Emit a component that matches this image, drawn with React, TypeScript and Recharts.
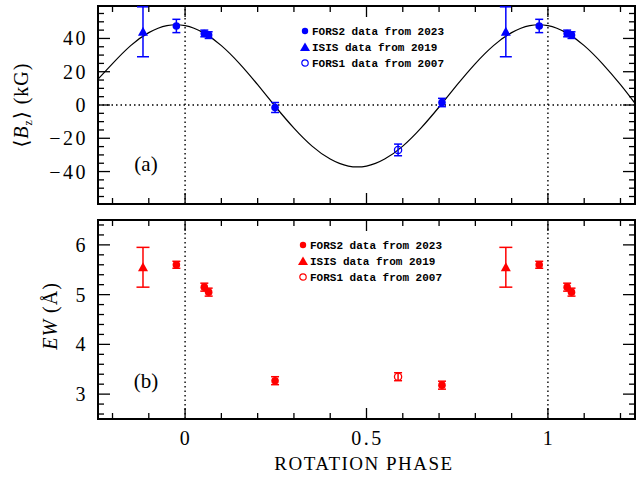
import React from "react";
import {
  ComposedChart,
  Line,
  Scatter,
  XAxis,
  YAxis,
  ErrorBar,
  ReferenceLine,
  ReferenceArea,
  Legend,
  Customized,
} from "recharts";

// axis setup
const phaseDomain = [-0.24, 1.24];
const phaseTicks = [-0.2, -0.1, 0, 0.1, 0.2, 0.3, 0.4, 0.5, 0.6, 0.7, 0.8, 0.9, 1, 1.1, 1.2];
const phaseLabels = [0, 0.5, 1];
const bDomain = [-59.5, 59.5];
const bTicks = [-55, -50, -45, -40, -35, -30, -25, -20, -15, -10, -5, 0, 5, 10, 15, 20, 25, 30, 35, 40, 45, 50, 55];
const bLabels = [-40, -20, 0, 20, 40];
const ewDomain = [2.5, 6.5];
const ewTicks = [2.6, 2.8, 3, 3.2, 3.4, 3.6, 3.8, 4, 4.2, 4.4, 4.6, 4.8, 5, 5.2, 5.4, 5.6, 5.8, 6, 6.2, 6.4];
const ewLabels = [3, 4, 5, 6];

// fitted curve
const fitPhase = [-0.24, -0.2, -0.15, -0.1, -0.05, 0, 0.05, 0.1, 0.15, 0.2, 0.25, 0.3, 0.35, 0.4, 0.45, 0.5, 0.55, 0.6, 0.65, 0.7, 0.75, 0.8, 0.85, 0.9, 0.95, 1, 1.05, 1.1, 1.15, 1.2, 1.24];
const fitB = [15.5, 24.9, 35.7, 43.5, 47.7, 47.7, 43.5, 35.7, 24.9, 12.2, -1.2, -13.9, -24.7, -32.5, -36.7, -36.7, -32.5, -24.7, -13.9, -1.2, 12.2, 24.9, 35.7, 43.5, 47.7, 47.7, 43.5, 35.7, 24.9, 12.2, 1];

// FORS2 2023
const fors2Phase = [-0.024, 0.053, 0.065, 0.248, 0.708, 0.976, 1.053, 1.065];
const fors2B = [47.5, 43, 42, -1.5, 1.5, 47.5, 43, 42];
const fors2BErr = [4, 2, 2, 3, 2.5, 4, 2, 2];
const fors2EW = [5.6, 5.15, 5.05, 3.27, 3.18, 5.6, 5.15, 5.05];
const fors2EWErr = [0.07, 0.08, 0.08, 0.08, 0.08, 0.07, 0.08, 0.08];

// ISIS 2019
const isisPhase = [-0.116, 0.884];
const isisB = [44, 44];
const isisBErr = [15, 15];
const isisEW = [5.55, 5.55];
const isisEWErr = [0.4, 0.4];

// FORS1 2007
const fors1Phase = [0.587];
const fors1B = [-27];
const fors1BErr = [3.5];
const fors1EW = [3.35];
const fors1EWErr = [0.08];

const legendNames = ["FORS2 data from 2023", "ISIS data from 2019", "FORS1 data from 2007"];

const zip = (xs: number[], ys: number[], es?: number[]) =>
  xs.map((x, i) => ({ x, y: ys[i], err: es ? es[i] : 0 }));

const fitRows = zip(fitPhase, fitB);

const SERIF = "'Liberation Serif', 'DejaVu Serif', serif";
const MONO = "'Liberation Mono', 'DejaVu Sans Mono', monospace";

const fmt = (v: number) => (v < 0 ? `\u2212${Math.abs(v)}` : String(v));

function XTick(props: any) {
  const { x, y, payload, plotH, showLabels } = props;
  const major = phaseLabels.includes(payload.value);
  const len = major ? 11 : 6;
  return (
    <g>
      <line x1={x} y1={y} x2={x} y2={y - len} stroke="#000" strokeWidth={1.3} />
      <line x1={x} y1={y - plotH} x2={x} y2={y - plotH + len} stroke="#000" strokeWidth={1.3} />
      {showLabels && major && (
        <text x={x + 1} y={y + 26} textAnchor="middle" fontFamily={SERIF} fontSize={20} letterSpacing={2.5} fill="#000">
          {fmt(payload.value)}
        </text>
      )}
    </g>
  );
}

function YTick(props: any) {
  const { x, y, payload, plotW, labels } = props;
  const major = labels.includes(payload.value);
  const len = major ? 12 : 6;
  return (
    <g>
      <line x1={x} y1={y} x2={x + len} y2={y} stroke="#000" strokeWidth={1.3} />
      <line x1={x + plotW} y1={y} x2={x + plotW - len} y2={y} stroke="#000" strokeWidth={1.3} />
      {major && (
        <text x={x - 10} y={y + 7} textAnchor="end" fontFamily={SERIF} fontSize={20} letterSpacing={2.5} fill="#000">
          {fmt(payload.value)}
        </text>
      )}
    </g>
  );
}

function LegendBox({ color }: { color: string }) {
  return (
    <svg width={160} height={50} style={{ display: "block" }}>
      <circle cx={9} cy={9} r={3.2} fill={color} />
      <polygon points="4,29 14,29 9,20.5" fill={color} />
      <circle cx={9} cy={41} r={3.2} fill="none" stroke={color} strokeWidth={1.2} />
      {legendNames.map((n, i) => (
        <text key={n} x={16} y={12.8 + i * 16} fontFamily={MONO} fontWeight="bold" fontSize={11} fill="#000">
          {n}
        </text>
      ))}
    </svg>
  );
}

const dotShape = (color: string) => (p: any) => <circle cx={p.cx} cy={p.cy} r={3.8} fill={color} />;
const openShape = (color: string) => (p: any) => (
  <circle cx={p.cx} cy={p.cy} r={3.6} fill="none" stroke={color} strokeWidth={1.3} />
);
const triShape = (color: string) => (p: any) => (
  <polygon points={`${p.cx - 5},${p.cy + 4} ${p.cx + 5},${p.cy + 4} ${p.cx},${p.cy - 5}`} fill={color} />
);

const PLOT_W = 537;
const DOT = { stroke: "#000", strokeDasharray: "1.5 3", strokeWidth: 1.4 };

export default function App() {
  const blue = "#0000ff";
  const red = "#ff0000";
  return (
    <div style={{ position: "absolute", left: 0, top: 0, width: 636, height: 477, background: "#fff" }}>
      {/* panel (a) */}
      <div style={{ position: "absolute", left: 0, top: 0 }}>
        <ComposedChart width={636} height={214} margin={{ top: 6, right: 1, bottom: 0, left: 0 }}>
          <XAxis
            type="number"
            dataKey="x"
            domain={phaseDomain}
            ticks={phaseTicks}
            interval={0}
            allowDataOverflow
            height={10}
            tickSize={0}
            tickMargin={0}
            axisLine={false}
            tick={(p: any) => <XTick {...p} plotH={198} showLabels={false} />}
          />
          <YAxis
            type="number"
            dataKey="y"
            domain={bDomain}
            ticks={bTicks}
            interval={0}
            allowDataOverflow
            width={98}
            tickSize={0}
            tickMargin={0}
            axisLine={false}
            tick={(p: any) => <YTick {...p} plotW={PLOT_W} labels={bLabels} />}
          />
          <ReferenceLine x={0} {...DOT} />
          <ReferenceLine x={1} {...DOT} />
          <ReferenceLine y={0} {...DOT} />
          <Line data={fitRows} dataKey="y" type="natural" stroke="#000" strokeWidth={1.2} dot={false} isAnimationActive={false} />
          <Scatter data={zip(isisPhase, isisB, isisBErr)} shape={triShape(blue)} isAnimationActive={false}>
            <ErrorBar dataKey="err" direction="y" width={6} stroke={blue} strokeWidth={1.5} />
          </Scatter>
          <Scatter data={zip(fors1Phase, fors1B, fors1BErr)} shape={openShape(blue)} isAnimationActive={false}>
            <ErrorBar dataKey="err" direction="y" width={4} stroke={blue} strokeWidth={1.5} />
          </Scatter>
          <Scatter data={zip(fors2Phase, fors2B, fors2BErr)} shape={dotShape(blue)} isAnimationActive={false}>
            <ErrorBar dataKey="err" direction="y" width={4} stroke={blue} strokeWidth={1.5} />
          </Scatter>
          <ReferenceArea x1={phaseDomain[0]} x2={phaseDomain[1]} y1={bDomain[0]} y2={bDomain[1]} fill="none" stroke="#000" strokeWidth={2} />
          <Legend
            layout="vertical"
            align="center"
            verticalAlign="middle"
            content={() => <LegendBox color={blue} />}
            wrapperStyle={{ position: "absolute", left: 296, top: 22, width: 160 }}
          />
          <Customized
            component={() => (
              <g fontFamily={SERIF} fill="#000">
                <text x={146} y={171} textAnchor="middle" fontSize={21}>(a)</text>
                <text transform="translate(28,105) rotate(-90)" textAnchor="middle" fontSize={20} letterSpacing={1}>
                  {"\u27e8"}
                  <tspan fontStyle="italic">B</tspan>
                  <tspan fontSize={12} dy={4}>z</tspan>
                  <tspan dy={-4}>{"\u27e9 (kG)"}</tspan>
                </text>
              </g>
            )}
          />
        </ComposedChart>
      </div>

      {/* panel (b) */}
      <div style={{ position: "absolute", left: 0, top: 214 }}>
        <ComposedChart width={636} height={263} margin={{ top: 6, right: 1, bottom: 0, left: 0 }}>
          <XAxis
            type="number"
            dataKey="x"
            domain={phaseDomain}
            ticks={phaseTicks}
            interval={0}
            allowDataOverflow
            height={58}
            tickSize={0}
            tickMargin={0}
            axisLine={false}
            tick={(p: any) => <XTick {...p} plotH={199} showLabels />}
          />
          <YAxis
            type="number"
            dataKey="y"
            domain={ewDomain}
            ticks={ewTicks}
            interval={0}
            allowDataOverflow
            width={98}
            tickSize={0}
            tickMargin={0}
            axisLine={false}
            tick={(p: any) => <YTick {...p} plotW={PLOT_W} labels={ewLabels} />}
          />
          <ReferenceLine x={0} {...DOT} />
          <ReferenceLine x={1} {...DOT} />
          <Scatter data={zip(isisPhase, isisEW, isisEWErr)} shape={triShape(red)} isAnimationActive={false}>
            <ErrorBar dataKey="err" direction="y" width={6.5} stroke={red} strokeWidth={1.5} />
          </Scatter>
          <Scatter data={zip(fors1Phase, fors1EW, fors1EWErr)} shape={openShape(red)} isAnimationActive={false}>
            <ErrorBar dataKey="err" direction="y" width={4} stroke={red} strokeWidth={1.5} />
          </Scatter>
          <Scatter data={zip(fors2Phase, fors2EW, fors2EWErr)} shape={dotShape(red)} isAnimationActive={false}>
            <ErrorBar dataKey="err" direction="y" width={4} stroke={red} strokeWidth={1.5} />
          </Scatter>
          <ReferenceArea x1={phaseDomain[0]} x2={phaseDomain[1]} y1={ewDomain[0]} y2={ewDomain[1]} fill="none" stroke="#000" strokeWidth={2} />
          <Legend
            layout="vertical"
            align="center"
            verticalAlign="middle"
            content={() => <LegendBox color={red} />}
            wrapperStyle={{ position: "absolute", left: 294, top: 22, width: 160 }}
          />
          <Customized
            component={() => (
              <g fontFamily={SERIF} fill="#000">
                <text x={146} y={174} textAnchor="middle" fontSize={21}>(b)</text>
                <text x={364} y={256} textAnchor="middle" fontSize={19} letterSpacing={1.5}>ROTATION PHASE</text>
                <text transform="translate(57,102) rotate(-90)" textAnchor="middle" fontSize={20} letterSpacing={1}>
                  <tspan fontStyle="italic">EW</tspan>
                  {" (\u00c5)"}
                </text>
              </g>
            )}
          />
        </ComposedChart>
      </div>
    </div>
  );
}
